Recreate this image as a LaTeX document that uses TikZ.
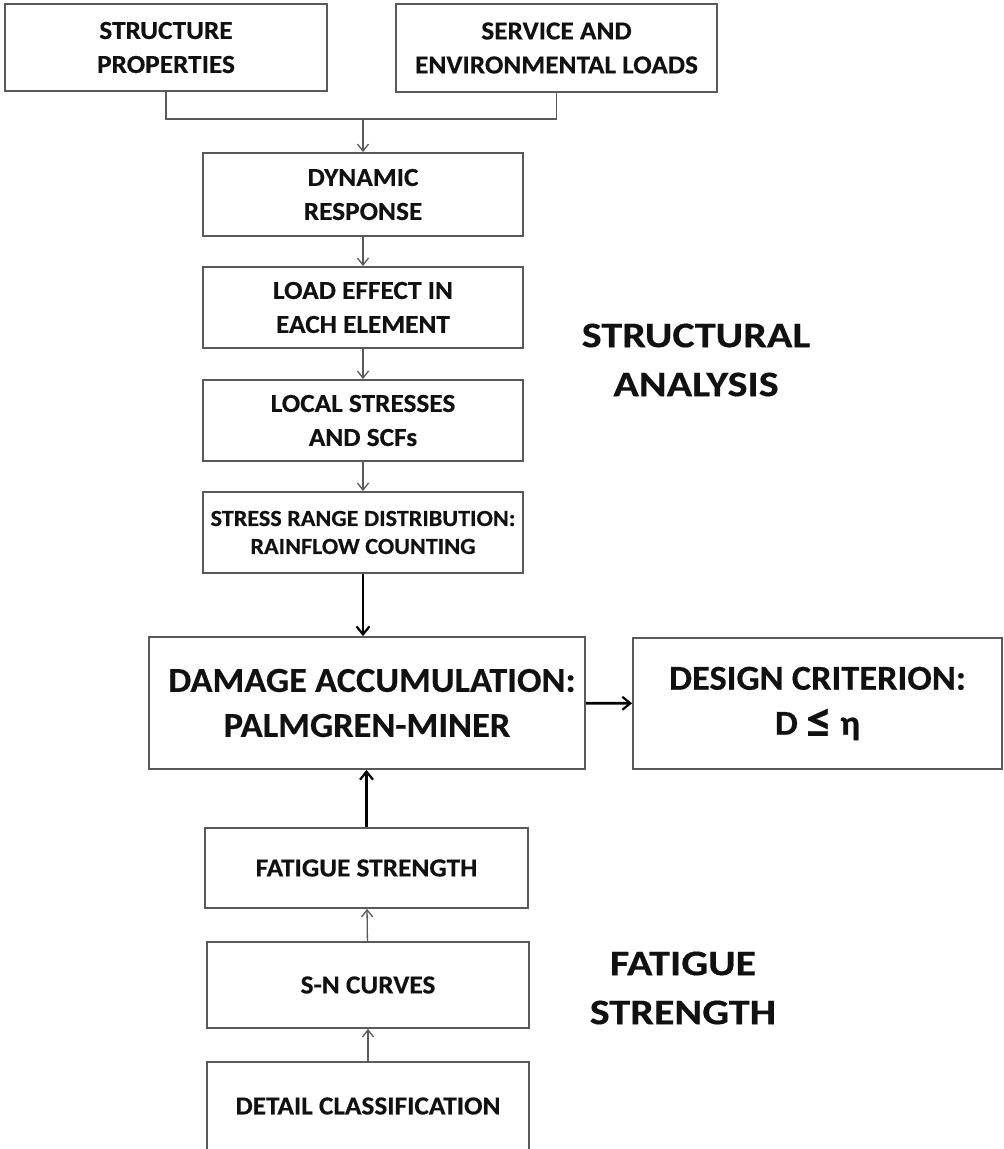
\documentclass[tikz,border=0pt]{standalone}
\usepackage{fontspec}
\setmainfont{Carlito}
\usetikzlibrary{arrows.meta}
\definecolor{boxline}{HTML}{5A5A5A}
\definecolor{txt}{HTML}{111111}
\newcommand{\wf}[3]{\bfseries\fontsize{#1}{#2}\selectfont\addfontfeatures{FakeStretch=#3,FakeBold=0.4}}
\tikzset{
  box/.style={draw=boxline, line width=1.8pt, rectangle, align=center, inner sep=0pt,
     text=txt, font=\wf{26}{34}{1.05}},
  smallbox/.style={box, minimum width=320pt},
  bigbox/.style={box, font=\wf{35}{45}{1.04}},
  thin/.style={draw=boxline, line width=1.3pt},
  thinarrow/.style={thin, -{Straight Barb[length=7pt,width=11pt,line width=1.3pt]}},
  thickarrow/.style={draw=black, line width=2.6pt, -{Straight Barb[length=8pt,width=13pt,line width=2.2pt]}},
  heading/.style={align=center, text=txt, font=\wf{36}{49}{1.17}}
}
\begin{document}
\begin{tikzpicture}[x=1pt,y=-1pt]
\useasboundingbox[fill=white] (0,0) rectangle (1004,1149);
\node[box, minimum width=322pt, minimum height=87pt] (sp) at (166,47.5) {STRUCTURE\\PROPERTIES};
\node[box, minimum width=321pt, minimum height=88pt] (sl) at (556.5,48) {SERVICE AND\\ENVIRONMENTAL LOADS};
\node[smallbox, minimum height=83pt] (dyn) at (363,194.5) {DYNAMIC\\RESPONSE};
\node[smallbox, minimum height=81pt] (load) at (363,307.5) {LOAD EFFECT IN\\EACH ELEMENT};
\node[smallbox, minimum height=81pt] (local) at (363,420.5) {LOCAL STRESSES\\AND SCFs};
\node[smallbox, minimum height=81pt, font=\wf{23}{28}{1.05}] (stress) at (363,532.5) {STRESS RANGE DISTRIBUTION:\\RAINFLOW COUNTING};
\node[bigbox, minimum width=436pt, minimum height=132pt] (dam) at (367,703) {\hspace*{10pt}DAMAGE ACCUMULATION:\\PALMGREN-MINER};
\node[bigbox, minimum width=369pt, minimum height=131pt] (des) at (817.5,703.5) {DESIGN CRITERION:\\D {\raisebox{-3pt}{\fontsize{50}{45}\selectfont ≤}} η};
\node[box, minimum width=323pt, minimum height=80pt] (fat) at (366.5,868) {FATIGUE STRENGTH};
\node[box, minimum width=322pt, minimum height=86pt] (sn) at (368,985) {S-N CURVES};
\node[box, minimum width=322pt, minimum height=88pt] (det) at (368,1106) {DETAIL CLASSIFICATION};
\node[heading] (sa) at (696,360) {STRUCTURAL\\ANALYSIS};
\node[heading] (fs) at (683,988) {FATIGUE\\STRENGTH};
\coordinate (j) at (363,119);
\draw[thin] (sp.south) |- (j) -| (sl.south);
\draw[thinarrow] (j) -- (dyn.north);
\draw[thinarrow] (dyn) -- (load);
\draw[thinarrow] (load) -- (local);
\draw[thinarrow] (local) -- (stress);
\draw[thickarrow] (stress.south) -- (stress.south |- dam.north);
\draw[thickarrow] (dam) -- (des);
\draw[thickarrow] (fat.north) -- (fat.north |- dam.south);
\draw[thinarrow] (sn) -- (fat);
\draw[thinarrow] (det) -- (sn);
\end{tikzpicture}
\end{document}
